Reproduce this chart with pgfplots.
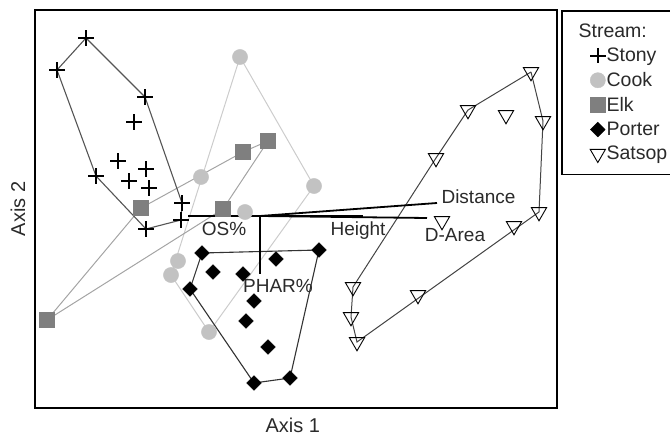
\documentclass[border=0pt]{standalone}
\usepackage{fontspec}
\setmainfont{Liberation Sans}
\usepackage{pgfplots}
\pgfplotsset{compat=1.18}
\definecolor{cookc}{HTML}{C2C2C2}
\definecolor{cookl}{HTML}{CCCCCC}
\definecolor{elkc}{HTML}{7F7F7F}
\definecolor{elkl}{HTML}{A4A4A4}
\definecolor{stonyl}{HTML}{555555}
\definecolor{porterl}{HTML}{333333}
\definecolor{satsopl}{HTML}{444444}
\definecolor{txt}{HTML}{2A2A2A}
\begin{document}
\begin{tikzpicture}
\useasboundingbox (-35pt,-28pt) rectangle (635pt,408pt);
\clip (-35pt,-28pt) rectangle (635pt,408pt);
\begin{axis}[
  at={(0pt,0pt)}, anchor=south west,
  scale only axis, width=522pt, height=398pt,
  xmin=35, xmax=557, ymin=10, ymax=408, y dir=reverse,
  xtick=\empty, ytick=\empty,
  axis line style={line width=1.6pt},
  clip=false,
  xlabel={Axis 1}, ylabel={Axis 2},
  label style={font=\fontsize{20}{24}\selectfont, text=txt},
  xlabel style={at={(axis description cs:0.494,-0.043)}, anchor=center},
  ylabel style={at={(axis description cs:-0.0326,0.5)}, anchor=center, rotate=0},
  legend image code/.code={\path[draw=none] (-17pt,0pt) -- (0pt,0pt);\draw[#1] plot coordinates {(0pt,0pt)};},
  legend style={at={(axis description cs:1.0077,1)}, anchor=north west, draw=black, line width=1.6pt,
    font=\fontsize{19.5}{22}\selectfont, text=txt, inner xsep=19pt, inner ysep=11pt,
    column sep=-1pt, row sep=5.2pt, cells={anchor=west}, nodes={inner sep=2pt}},
]
% hulls
\addplot[forget plot, color=cookl, line width=1pt] coordinates {(240,57)(314,186)(209,332)(171,275)(240,57)};
\addplot[forget plot, color=elkl, line width=1pt] coordinates {(47,320)(141,208)(243,152)(268,141)(223,209)(47,320)};
\addplot[forget plot, color=stonyl, line width=1.1pt] coordinates {(86,38)(145,97)(182,203)(181,220)(146,229)(96,176)(57,70)(86,38)};
\addplot[forget plot, color=porterl, line width=1.1pt] coordinates {(202,253)(319,250)(290,378)(254,383)(190,289)(202,253)};
\addplot[forget plot, color=satsopl, line width=1pt] coordinates {(531,72)(543,121)(539,212)(357,342)(351,317)(353,287)(436,158)(468,110)(531,72)};
% vectors
\addplot[forget plot, black, line width=1.8pt] coordinates {(260,216)(437,203)};
\addplot[forget plot, black, line width=1.8pt] coordinates {(260,216)(427,218)};
\addplot[forget plot, black, line width=2.2pt] coordinates {(260,216)(363,216)};
\addplot[forget plot, black, line width=1.8pt] coordinates {(260,216)(188,216)};
\addplot[forget plot, black, line width=1.8pt] coordinates {(260,216)(260,274)};
\node[anchor=west, text=txt, font=\fontsize{19}{22}\selectfont] at (axis cs:438,197) {Distance};
\node[text=txt, font=\fontsize{19}{22}\selectfont] at (axis cs:358,231) {Height};
\node[text=txt, font=\fontsize{19}{22}\selectfont] at (axis cs:455,235) {D-Area};
\node[text=txt, font=\fontsize{19}{22}\selectfont] at (axis cs:224,229) {OS\%};
\node[text=txt, font=\fontsize{19}{22}\selectfont] at (axis cs:278,286) {PHAR\%};
% legend title
\addlegendimage{empty legend}
\addlegendentry{\hspace*{-28pt}Stream:}
% markers
\addplot[only marks, mark=+, mark size=7.8pt, mark options={line width=2.2pt, draw=black}] coordinates {
(86,38)(57,70)(145,97)(134,122)(118,161)(146,169)(96,176)(129,181)(149,188)(182,203)(181,220)(146,229)};
\addlegendentry{Stony}
\addplot[only marks, mark=*, mark size=7.6pt, mark options={fill=cookc, draw=cookc, line width=0.4pt}] coordinates {
(240,57)(201,177)(314,186)(245,212)(178,261)(171,275)(209,332)};
\addlegendentry{Cook}
\addplot[only marks, mark=square*, mark size=7.4pt, mark options={fill=elkc, draw=elkc, line width=0.4pt}] coordinates {
(47,320)(141,208)(243,152)(268,141)(223,209)};
\addlegendentry{Elk}
\addplot[only marks, mark=square*, mark size=5.2pt, mark options={rotate=45, fill=black, draw=black, line width=0.4pt}] coordinates {
(202,253)(319,250)(276,259)(213,272)(243,274)(190,289)(254,301)(246,321)(268,347)(254,383)(290,378)};
\addlegendentry{Porter}
\addplot[only marks, mark=triangle, mark size=8.8pt, mark options={rotate=180, draw=black, fill=none, line width=0.9pt}] coordinates {
(531,72)(468,110)(506,115)(543,121)(436,158)(539,212)(442,221)(514,226)(353,287)(418,295)(351,317)(357,342)};
\addlegendentry{Satsop\hspace*{8pt}}
\end{axis}
\end{tikzpicture}
\end{document}
